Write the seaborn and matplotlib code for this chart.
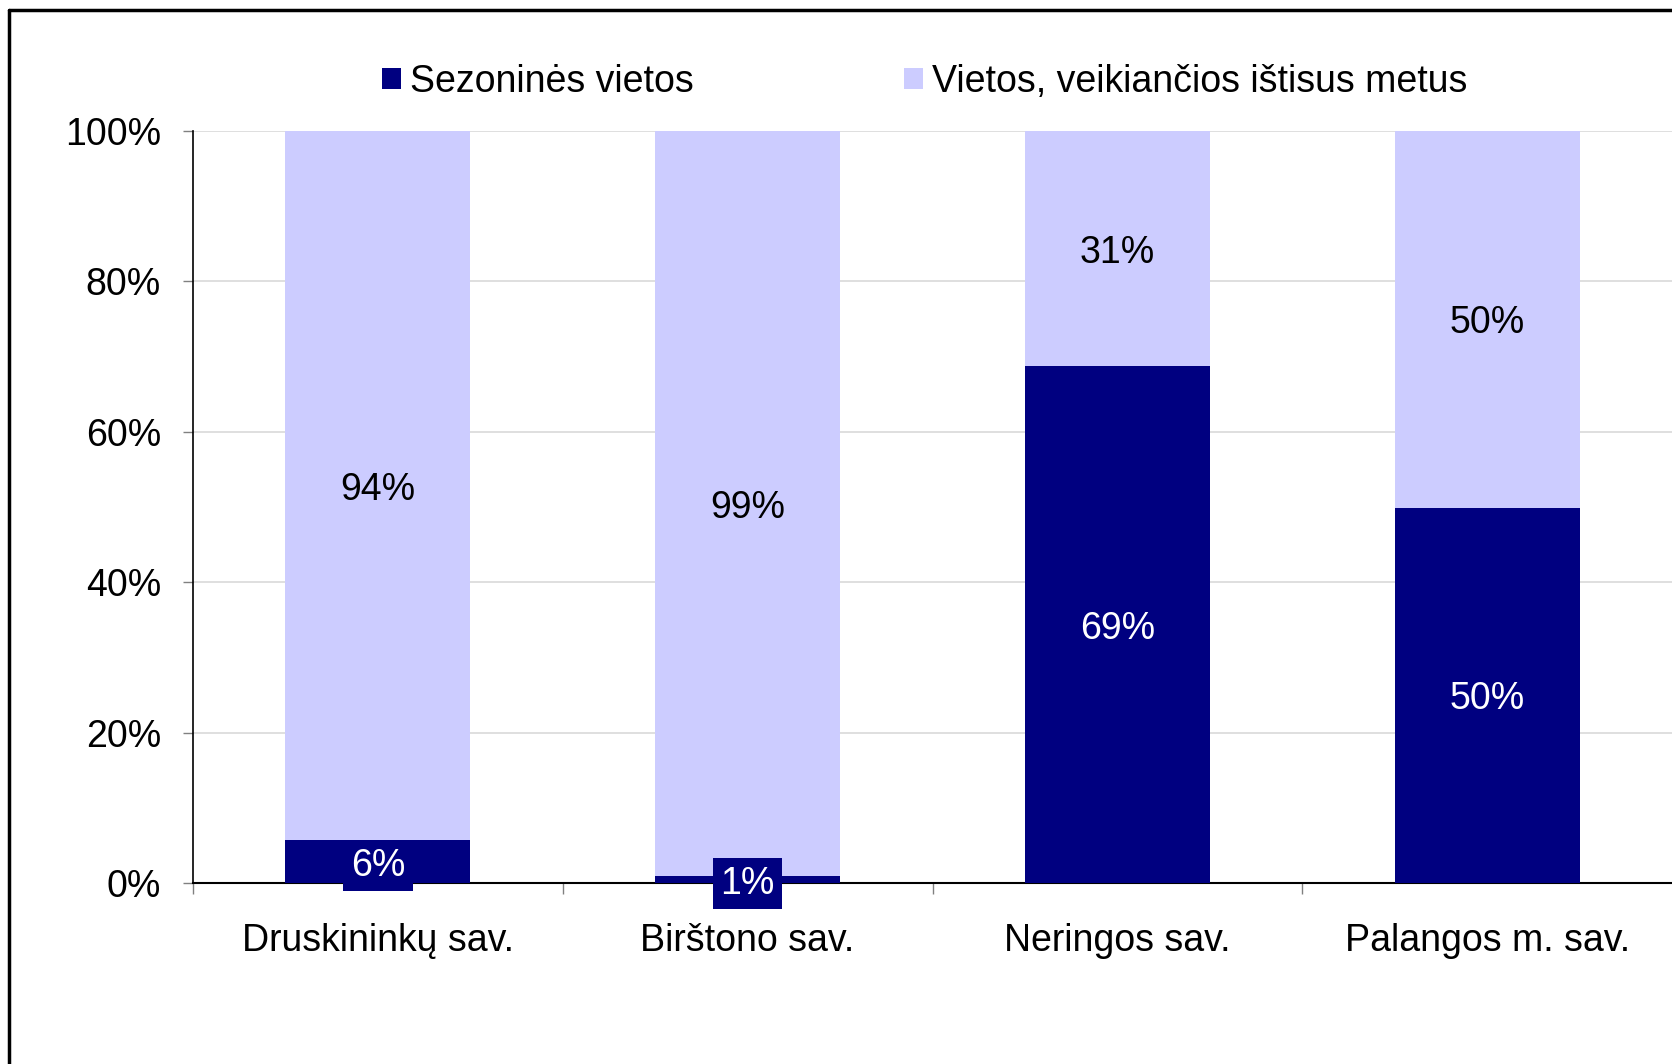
import matplotlib
matplotlib.use("Agg")
import matplotlib.pyplot as plt
import seaborn as sns
import pandas as pd
from matplotlib.lines import Line2D
from matplotlib.patches import Patch

# ---- data ----
categories = ["Druskininkų sav.", "Birštono sav.", "Neringos sav.", "Palangos m. sav."]
seasonal = [5.7, 0.9, 68.7, 49.9]          # Sezoninės vietos
year_round = [94.3, 99.1, 31.3, 50.1]      # Vietos, veikiančios ištisus metus
seasonal_labels = ["6%", "1%", "69%", "50%"]
year_round_labels = ["94%", "99%", "31%", "50%"]
series_names = ["Sezoninės vietos", "Vietos, veikiančios ištisus metus"]
y_ticks = [0, 20, 40, 60, 80, 100]
y_tick_labels = ["0%", "20%", "40%", "60%", "80%", "100%"]

DARK = "#000080"
LIGHT = "#CCCCFF"

sns.set_theme(style="white")
plt.rcParams["font.family"] = ["Liberation Sans", "DejaVu Sans"]
plt.rcParams["text.color"] = "black"
FS = 27

df = pd.DataFrame({
    "category": categories,
    "seasonal": seasonal,
    "year_round": year_round,
})
df["total"] = df["seasonal"] + df["year_round"]

fig = plt.figure(figsize=(16.72, 10.64), dpi=100)
ax = fig.add_axes([193 / 1672, 1 - 883 / 1064, 1 - 193 / 1672, (883 - 131) / 1064])

sns.barplot(data=df, x="category", y="total", color=LIGHT, saturation=1,
            width=0.5, ax=ax, zorder=2, linewidth=0)
sns.barplot(data=df, x="category", y="seasonal", color=DARK, saturation=1,
            width=0.5, ax=ax, zorder=3, linewidth=0)

# labels
for i, (s, a) in enumerate(zip(seasonal, year_round)):
    ax.text(i, s + a / 2, year_round_labels[i], ha="center", va="center_baseline",
            fontsize=FS, color="black", zorder=5)
    if s < 10:
        ax.text(i, s / 2, seasonal_labels[i], ha="center", va="center_baseline",
                fontsize=FS, color="white", zorder=5,
                bbox=dict(boxstyle="square,pad=0.2", facecolor=DARK, edgecolor="none"))
    else:
        ax.text(i, s / 2, seasonal_labels[i], ha="center", va="center_baseline",
                fontsize=FS, color="white", zorder=5)

ax.set_xlim(-0.5, 3.5)
ax.set_ylim(0, 100)
ax.set_yticks(y_ticks)
ax.set_yticklabels(y_tick_labels, fontsize=FS, color="black")
ax.set_xticks(range(len(categories)))
ax.set_xticklabels(categories, fontsize=FS, color="black")
ax.set_xticks([-0.5, 0.5, 1.5, 2.5], minor=True)
ax.set_xlabel("")
ax.set_ylabel("")

ax.yaxis.grid(True, color="#d9d9d9", linewidth=1.2, zorder=0)
ax.xaxis.grid(False)
ax.set_axisbelow(True)

ax.tick_params(axis="y", which="major", left=True, length=7, width=1,
               color="#808080", pad=16, labelcolor="black")
ax.tick_params(axis="x", which="major", bottom=True, length=0, pad=29,
               labelcolor="black")
ax.tick_params(axis="x", which="minor", bottom=True, length=8, width=1,
               color="#808080")

for side in ["top", "right"]:
    ax.spines[side].set_visible(False)
ax.spines["left"].set_color("black")
ax.spines["left"].set_linewidth(1.2)
ax.spines["bottom"].set_color("black")
ax.spines["bottom"].set_linewidth(1.5)

handles = [Patch(facecolor=DARK, edgecolor="none"),
           Patch(facecolor=LIGHT, edgecolor="none")]
leg = fig.legend(handles, series_names, loc="center",
                 bbox_to_anchor=(925 / 1672, 1 - 82 / 1064), ncol=2, frameon=False,
                 fontsize=FS, handlelength=0.5, handleheight=0.5, handletextpad=0.25,
                 columnspacing=5.6)
for t in leg.get_texts():
    t.set_color("black")

# outer frame (left and top edges visible)
y_top = 1 - 10 / 1064
x_left = 9 / 1672
fig.add_artist(Line2D([x_left, 1.01], [y_top, y_top], transform=fig.transFigure,
                      color="black", linewidth=2.5, clip_on=False))
fig.add_artist(Line2D([x_left, x_left], [-0.01, y_top], transform=fig.transFigure,
                      color="black", linewidth=2.5, clip_on=False))

fig.savefig("out.png", dpi=100)
